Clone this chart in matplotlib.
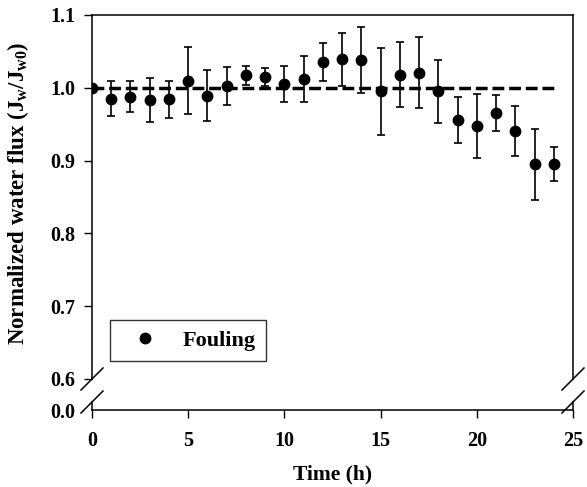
import matplotlib.pyplot as plt
from matplotlib.lines import Line2D

plt.rcParams['font.family'] = ['Liberation Serif', 'DejaVu Serif']
plt.rcParams['font.weight'] = 'bold'
plt.rcParams['mathtext.fontset'] = 'custom'
plt.rcParams['mathtext.rm'] = 'Liberation Serif:bold'
plt.rcParams['mathtext.it'] = 'Liberation Serif:bold'
plt.rcParams['mathtext.bf'] = 'Liberation Serif:bold'

time_h = list(range(25))
flux = [1.000, 0.985, 0.988, 0.983, 0.984, 1.010, 0.989, 1.003, 1.017, 1.015,
        1.005, 1.012, 1.035, 1.039, 1.038, 0.995, 1.018, 1.021, 0.995, 0.956,
        0.947, 0.965, 0.941, 0.895, 0.895]
flux_err = [0.0, 0.024, 0.021, 0.030, 0.025, 0.046, 0.035, 0.026, 0.013, 0.012,
            0.025, 0.031, 0.026, 0.036, 0.045, 0.060, 0.045, 0.049, 0.043, 0.032,
            0.044, 0.025, 0.034, 0.049, 0.023]
baseline_x = [0, 24.2]
baseline_y = [1.0, 1.0]

W, H = 587, 487
fig = plt.figure(figsize=(W / 100, H / 100), dpi=100)

left, right = 92, 573
ax = fig.add_axes([left / W, (H - 379) / H, (right - left) / W, (379 - 15) / H])
ax2 = fig.add_axes([left / W, (H - 410) / H, (right - left) / W, 8 / H])

ax.plot(baseline_x, baseline_y, color='black', lw=2.5, dashes=(3.4, 1.4), zorder=1)
ax.errorbar(time_h, flux, yerr=flux_err, fmt='o', color='black', ms=7.5,
            ecolor='black', elinewidth=1.2, capsize=3.2, capthick=1.2, zorder=3)

tick_fs = 14.5
ax.set_xlim(0, 25)
ax.set_ylim(0.6, 1.1)
ax.set_yticks([0.6, 0.7, 0.8, 0.9, 1.0, 1.1])
ax.set_yticklabels(['0.6', '0.7', '0.8', '0.9', '1.0', '1.1'])
ax.spines['bottom'].set_visible(False)
ax.tick_params(axis='x', bottom=False, labelbottom=False)
ax.tick_params(axis='y', direction='out', length=6, width=1, labelsize=tick_fs, pad=6)
for s in ['left', 'right', 'top']:
    ax.spines[s].set_linewidth(1.1)

ax2.set_xlim(0, 25)
ax2.set_ylim(0, 0.01)
ax2.set_yticks([0])
ax2.set_yticklabels(['0.0'])
ax2.set_xticks([0, 5, 10, 15, 20, 25])
ax2.spines['top'].set_visible(False)
ax2.tick_params(axis='y', length=0, labelsize=tick_fs, pad=12)
ax2.tick_params(axis='x', direction='out', length=6, width=1, labelsize=tick_fs, pad=9)
for s in ['left', 'right', 'bottom']:
    ax2.spines[s].set_linewidth(1.1)
ax2.set_xlabel('Time (h)', fontsize=15.5, fontweight='bold', labelpad=10)

fig.text(18 / W, (H - 193) / H, 'Normalized water flux (J$_\\mathregular{w}$/J$_\\mathregular{w0}$)',
         rotation=90, ha='center', va='center', fontsize=16.5, fontweight='bold')

# break marks
for x0 in [left, right]:
    for yc in [379, 402]:
        fig.add_artist(Line2D([(x0 - 11) / W, (x0 + 11) / W],
                              [(H - yc - 11) / H, (H - yc + 11) / H],
                              color='black', lw=1.1))

handle = Line2D([], [], ls='none', marker='o', color='black', ms=7.5)
leg = ax.legend([handle], ['Fouling'], loc='lower left',
                bbox_to_anchor=((110 - left) / (right - left), (379 - 361) / 364),
                frameon=True, fancybox=False, edgecolor='black',
                borderpad=0.45, handletextpad=0.55, borderaxespad=0, handlelength=2.27,
                prop={'weight': 'bold', 'size': 16})
leg.get_frame().set_linewidth(1.0)

fig.savefig('out.png', dpi=100)
